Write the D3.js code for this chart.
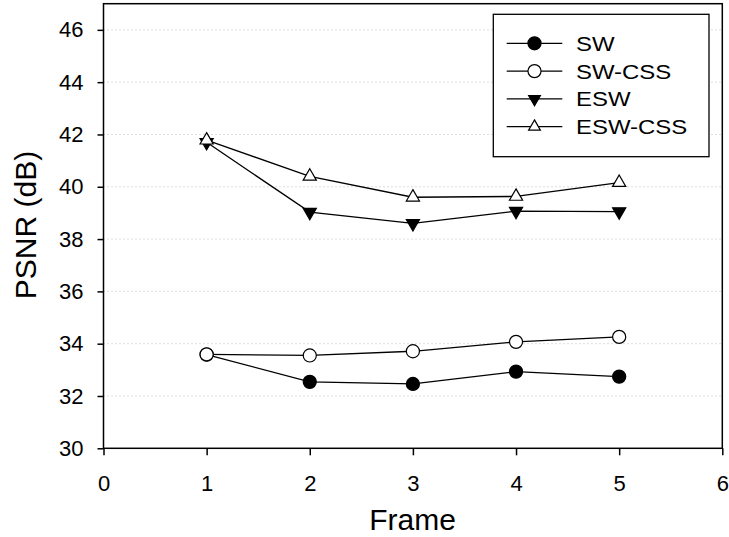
<!DOCTYPE html>
<html>
<head>
<meta charset="utf-8">
<script src="https://cdn.jsdelivr.net/npm/d3@7"></script>
<style>
  body { margin: 0; background: #fff; }
  text { font-family: "Liberation Sans", Arial, sans-serif; fill: #000; }
</style>
</head>
<body>
<svg id="chart" width="729" height="537"></svg>
<script>
const frames = [1, 2, 3, 4, 5];
const sw = [33.58, 32.54, 32.46, 32.93, 32.74];
const swCss = [33.59, 33.55, 33.71, 34.07, 34.26];
const esw = [41.7, 39.03, 38.6, 39.07, 39.05];
const eswCss = [41.78, 40.4, 39.6, 39.63, 40.16];
const xTicks = [0, 1, 2, 3, 4, 5, 6];
const yTicks = [30, 32, 34, 36, 38, 40, 42, 44, 46];

const seriesList = [
    { name: 'SW', values: sw, symbol: d3.symbolCircle, fill: '#000' },
    { name: 'SW-CSS', values: swCss, symbol: d3.symbolCircle, fill: '#fff' },
    { name: 'ESW', values: esw, symbol: 'down', fill: '#000' },
    { name: 'ESW-CSS', values: eswCss, symbol: d3.symbolTriangle, fill: '#fff' }
];

const svg = d3.select('#chart');
const plotLeft = 103.5, plotRight = 722.3, plotTop = 3.7, plotBottom = 448.3;

const x = d3.scaleLinear().domain([0, 6]).range([plotLeft, plotRight]);
const y = d3.scaleLinear().domain([30, 47]).range([plotBottom, plotTop]);

// grid
svg.append('g').selectAll('line').data(yTicks.filter((t) => t > 30)).enter().append('line')
    .attr('x1', plotLeft).attr('x2', plotRight)
    .attr('y1', (d) => y(d)).attr('y2', (d) => y(d))
    .attr('stroke', '#bbb').attr('stroke-width', 1).attr('stroke-dasharray', '1,3');

// frame box
svg.append('rect').attr('x', plotLeft).attr('y', plotTop)
    .attr('width', plotRight - plotLeft).attr('height', plotBottom - plotTop)
    .attr('fill', 'none').attr('stroke', '#000').attr('stroke-width', 1.5);

// axes
const yAxis = svg.append('g').attr('transform', `translate(${plotLeft},0)`)
    .call(d3.axisLeft(y).tickValues(yTicks).tickFormat(d3.format('d')).tickSize(6).tickPadding(14));
const xAxis = svg.append('g').attr('transform', `translate(0,${plotBottom})`)
    .call(d3.axisBottom(x).tickValues(xTicks).tickFormat(d3.format('d')).tickSize(7).tickPadding(20));
[yAxis, xAxis].forEach((ax) => {
    ax.select('.domain').remove();
    ax.attr('font-size', 22).attr('font-family', '"Liberation Sans", Arial, sans-serif');
    ax.selectAll('line').attr('stroke', '#000').attr('stroke-width', 1.5);
});

svg.append('text').attr('x', 412.5).attr('y', 530).attr('text-anchor', 'middle')
    .attr('font-size', 30).text('Frame');
svg.append('text').attr('transform', 'translate(36,225) rotate(-90)').attr('text-anchor', 'middle')
    .attr('font-size', 30).text('PSNR (dB)');

function markerPath(symbol, small) {
    if (symbol === d3.symbolCircle) {
        return d3.symbol().type(symbol).size(135)();
    }
    return d3.symbol().type(d3.symbolTriangle).size(small ? 60 : 75)();
}

const line = d3.line().x((d) => x(d[0])).y((d) => y(d[1]));

seriesList.forEach((s) => {
    const pts = frames.map((f, i) => [f, s.values[i]]);
    svg.append('path').datum(pts).attr('d', line)
        .attr('fill', 'none').attr('stroke', '#000').attr('stroke-width', 1.3);
    svg.append('g').selectAll('path').data(pts).enter().append('path')
        .attr('d', markerPath(s.symbol))
        .attr('transform', (d) => `translate(${x(d[0])},${y(d[1])})` + (s.symbol === 'down' ? ' rotate(180)' : ''))
        .attr('fill', s.fill).attr('stroke', '#000').attr('stroke-width', 1.2);
});

// legend
const legend = svg.append('g');
legend.append('rect').attr('x', 493.3).attr('y', 14.3).attr('width', 215.7).attr('height', 142.4)
    .attr('fill', '#fff').attr('stroke', '#000').attr('stroke-width', 1.3);
const legendY = d3.scalePoint().domain(seriesList.map((s) => s.name)).range([43.3, 126.7]);
seriesList.forEach((s) => {
    const ly = legendY(s.name);
    legend.append('line').attr('x1', 506.7).attr('x2', 562.3).attr('y1', ly).attr('y2', ly)
        .attr('stroke', '#000').attr('stroke-width', 1.3);
    legend.append('path').attr('d', markerPath(s.symbol, true))
        .attr('transform', `translate(534.5,${ly})` + (s.symbol === 'down' ? ' rotate(180)' : ''))
        .attr('fill', s.fill).attr('stroke', '#000').attr('stroke-width', 1.2);
    legend.append('text').attr('transform', `translate(576,${ly + 7.5}) scale(1.14,1)`)
        .attr('font-size', 21).text(s.name);
});
</script>
</body>
</html>
